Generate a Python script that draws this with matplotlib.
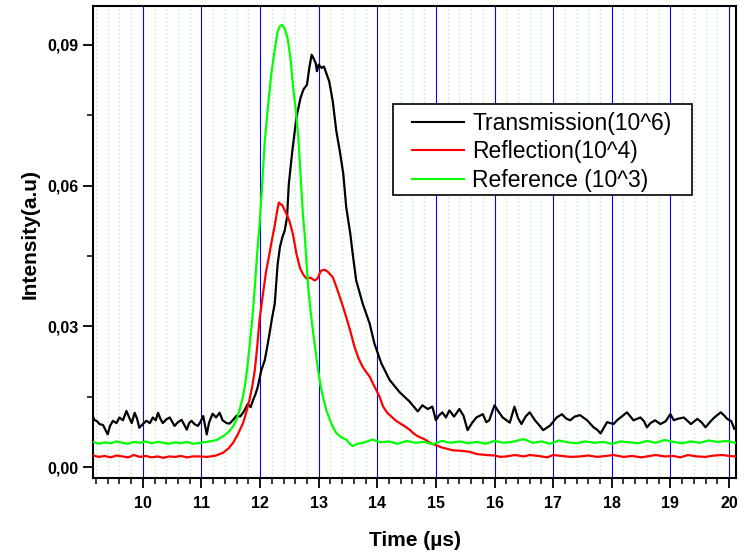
import matplotlib
matplotlib.use('Agg')
import matplotlib.pyplot as plt
from matplotlib.patches import Rectangle
from matplotlib.ticker import MultipleLocator, FuncFormatter

plt.rcParams['font.family'] = ['Liberation Sans', 'DejaVu Sans']

# Transmission (10^6), black
t_x = [9.15, 9.17, 9.22, 9.26, 9.32, 9.36, 9.40, 9.44, 9.49, 9.55, 9.60, 9.66, 9.72, 9.77,
       9.81, 9.86, 9.90, 9.94, 10.00, 10.06, 10.12, 10.17, 10.22, 10.26, 10.30, 10.34, 10.40,
       10.46, 10.50, 10.54, 10.60, 10.66, 10.70, 10.75, 10.79, 10.83, 10.88, 10.94, 10.98,
       11.03, 11.06, 11.09, 11.13, 11.19, 11.25, 11.31, 11.36, 11.43, 11.48, 11.54, 11.60,
       11.66, 11.72, 11.79, 11.84, 11.88, 11.92, 11.96, 12.02, 12.08, 12.12, 12.16, 12.20,
       12.25, 12.30, 12.34, 12.38, 12.42, 12.46, 12.49, 12.55, 12.62, 12.69, 12.74, 12.80,
       12.84, 12.88, 12.91, 12.95, 12.97, 13.00, 13.05, 13.09, 13.13, 13.18, 13.24, 13.30,
       13.36, 13.42, 13.47, 13.54, 13.58, 13.64, 13.75, 13.87, 13.95, 14.07, 14.21, 14.38,
       14.55, 14.69, 14.77, 14.86, 14.94, 15.00, 15.05, 15.11, 15.17, 15.23, 15.31, 15.40,
       15.47, 15.54, 15.62, 15.69, 15.80, 15.86, 15.91, 16.00, 16.07, 16.14, 16.26, 16.34,
       16.40, 16.46, 16.53, 16.60, 16.69, 16.76, 16.83, 16.95, 17.06, 17.15, 17.22, 17.29,
       17.37, 17.46, 17.58, 17.69, 17.75, 17.81, 17.92, 18.03, 18.09, 18.15, 18.26, 18.37,
       18.49, 18.55, 18.60, 18.66, 18.74, 18.83, 18.92, 19.00, 19.06, 19.12, 19.23, 19.35,
       19.46, 19.53, 19.60, 19.68, 19.75, 19.86, 19.92, 19.97, 20.04, 20.09]
t_y = [0.0108, 0.0101, 0.0098, 0.0092, 0.0090, 0.0080, 0.0070, 0.0088, 0.0099, 0.0094,
       0.0106, 0.0100, 0.0120, 0.0105, 0.0094, 0.0116, 0.0104, 0.0084, 0.0092, 0.0099,
       0.0094, 0.0106, 0.0100, 0.0116, 0.0103, 0.0094, 0.0102, 0.0106, 0.0097, 0.0088,
       0.0096, 0.0101, 0.0092, 0.0080, 0.0094, 0.0099, 0.0092, 0.0088, 0.0096, 0.0109,
       0.0090, 0.0070, 0.0095, 0.0114, 0.0106, 0.0116, 0.0100, 0.0094, 0.0093, 0.0101,
       0.0110, 0.0108, 0.0118, 0.0135, 0.0128, 0.0143, 0.0155, 0.0171, 0.0206, 0.0228,
       0.0255, 0.0284, 0.0315, 0.0348, 0.0433, 0.0470, 0.0490, 0.0504, 0.0532, 0.0603,
       0.0674, 0.0745, 0.0787, 0.0805, 0.0815, 0.0851, 0.0879, 0.0872, 0.0861, 0.0844,
       0.0858, 0.0851, 0.0854, 0.0840, 0.0822, 0.0780, 0.0717, 0.0674, 0.0625, 0.0554,
       0.0497, 0.0455, 0.0398, 0.0349, 0.0306, 0.0264, 0.0221, 0.0186, 0.0160, 0.0140,
       0.0119, 0.0132, 0.0124, 0.0129, 0.0100, 0.0110, 0.0117, 0.0106, 0.0121, 0.0108,
       0.0124, 0.0110, 0.0079, 0.0095, 0.0106, 0.0113, 0.0096, 0.0100, 0.0132, 0.0118,
       0.0106, 0.0095, 0.0129, 0.0105, 0.0092, 0.0108, 0.0117, 0.0100, 0.0090, 0.0079,
       0.0089, 0.0106, 0.0113, 0.0104, 0.0100, 0.0108, 0.0111, 0.0100, 0.0085, 0.0080,
       0.0072, 0.0096, 0.0092, 0.0100, 0.0106, 0.0117, 0.0100, 0.0106, 0.0098, 0.0085,
       0.0094, 0.0100, 0.0092, 0.0098, 0.0113, 0.0100, 0.0103, 0.0106, 0.0092, 0.0103,
       0.0096, 0.0085, 0.0097, 0.0106, 0.0117, 0.0110, 0.0103, 0.0098, 0.0082]

# Reflection (10^4), red
r_x = [9.15, 9.25, 9.35, 9.45, 9.55, 9.65, 9.75, 9.85, 9.95, 10.05, 10.15, 10.25, 10.35,
       10.45, 10.55, 10.65, 10.75, 10.85, 10.97, 11.10, 11.25, 11.37, 11.46, 11.54, 11.62,
       11.71, 11.76, 11.82, 11.87, 11.91, 11.95, 11.99, 12.05, 12.10, 12.16, 12.20, 12.25,
       12.29, 12.32, 12.38, 12.45, 12.50, 12.56, 12.62, 12.68, 12.73, 12.79, 12.86, 12.93,
       12.98, 13.04, 13.10, 13.16, 13.24, 13.30, 13.36, 13.42, 13.47, 13.54, 13.61, 13.68,
       13.75, 13.81, 13.87, 13.92, 13.98, 14.04, 14.10, 14.17, 14.24, 14.31, 14.38, 14.46,
       14.55, 14.62, 14.69, 14.80, 14.90, 15.00, 15.10, 15.20, 15.29, 15.43, 15.57, 15.70,
       15.86, 16.00, 16.10, 16.20, 16.35, 16.50, 16.60, 16.75, 16.90, 17.00, 17.15, 17.30,
       17.46, 17.60, 17.75, 17.90, 18.03, 18.20, 18.35, 18.50, 18.60, 18.75, 18.90, 19.05,
       19.17, 19.30, 19.45, 19.60, 19.75, 19.90, 20.00, 20.11]
r_y = [0.0025, 0.0022, 0.0024, 0.0021, 0.0025, 0.0023, 0.0021, 0.0026, 0.0022, 0.0024,
       0.0021, 0.0023, 0.0020, 0.0023, 0.0022, 0.0024, 0.0021, 0.0023, 0.0023, 0.0022,
       0.0025, 0.0031, 0.0040, 0.0052, 0.0070, 0.0094, 0.0115, 0.0144, 0.0175, 0.0207,
       0.0255, 0.0313, 0.0370, 0.0415, 0.0455, 0.0483, 0.0515, 0.0545, 0.0564, 0.0558,
       0.0540, 0.0525, 0.0497, 0.0455, 0.0425, 0.0412, 0.0402, 0.0404, 0.0398, 0.0402,
       0.0419, 0.0421, 0.0416, 0.0405, 0.0385, 0.0363, 0.0340, 0.0320, 0.0290, 0.0257,
       0.0232, 0.0214, 0.0203, 0.0193, 0.0180, 0.0165, 0.0150, 0.0129, 0.0116, 0.0108,
       0.0100, 0.0094, 0.0088, 0.0080, 0.0072, 0.0066, 0.0060, 0.0052, 0.0047, 0.0042,
       0.0039, 0.0036, 0.0035, 0.0033, 0.0028, 0.0026, 0.0025, 0.0022, 0.0023, 0.0026,
       0.0023, 0.0026, 0.0024, 0.0021, 0.0026, 0.0024, 0.0022, 0.0023, 0.0025, 0.0022,
       0.0024, 0.0026, 0.0022, 0.0024, 0.0021, 0.0023, 0.0026, 0.0023, 0.0024, 0.0021,
       0.0026, 0.0023, 0.0022, 0.0025, 0.0026, 0.0024, 0.0023]

# Reference (10^3), green
g_x = [9.15, 9.25, 9.35, 9.45, 9.55, 9.65, 9.75, 9.85, 9.95, 10.05, 10.15, 10.25, 10.35,
       10.45, 10.55, 10.65, 10.75, 10.85, 10.97, 11.14, 11.26, 11.37, 11.46, 11.54, 11.60,
       11.65, 11.70, 11.74, 11.78, 11.82, 11.87, 11.91, 11.95, 11.99, 12.04, 12.08, 12.14,
       12.19, 12.25, 12.30, 12.34, 12.37, 12.42, 12.47, 12.52, 12.56, 12.61, 12.65, 12.70,
       12.73, 12.76, 12.82, 12.86, 12.90, 12.95, 12.99, 13.03, 13.07, 13.13, 13.19, 13.25,
       13.30, 13.38, 13.47, 13.53, 13.58, 13.66, 13.75, 13.83, 13.92, 14.05, 14.19, 14.35,
       14.50, 14.65, 14.80, 14.95, 15.10, 15.25, 15.40, 15.55, 15.70, 15.85, 16.00, 16.15,
       16.30, 16.50, 16.65, 16.80, 16.95, 17.10, 17.25, 17.40, 17.55, 17.70, 17.85, 18.00,
       18.15, 18.30, 18.45, 18.60, 18.75, 18.90, 19.05, 19.20, 19.35, 19.50, 19.65, 19.80,
       19.95, 20.11]
g_y = [0.0054, 0.0050, 0.0053, 0.0051, 0.0055, 0.0052, 0.0050, 0.0054, 0.0052, 0.0055,
       0.0051, 0.0054, 0.0052, 0.0050, 0.0053, 0.0051, 0.0054, 0.0050, 0.0052, 0.0055,
       0.0058, 0.0066, 0.0075, 0.0087, 0.0102, 0.0122, 0.0146, 0.0172, 0.0210, 0.0257,
       0.0320, 0.0384, 0.0455, 0.0515, 0.0610, 0.0695, 0.0775, 0.0837, 0.0890, 0.0929,
       0.0940, 0.0943, 0.0935, 0.0914, 0.0870, 0.0815, 0.0760, 0.0709, 0.0603, 0.0540,
       0.0497, 0.0384, 0.0335, 0.0292, 0.0245, 0.0207, 0.0175, 0.0151, 0.0122, 0.0101,
       0.0084, 0.0073, 0.0064, 0.0059, 0.0050, 0.0045, 0.0050, 0.0052, 0.0055, 0.0059,
       0.0053, 0.0055, 0.0050, 0.0056, 0.0052, 0.0054, 0.0049, 0.0056, 0.0052, 0.0055,
       0.0051, 0.0054, 0.0050, 0.0056, 0.0052, 0.0054, 0.0060, 0.0052, 0.0055, 0.0050,
       0.0057, 0.0053, 0.0051, 0.0055, 0.0052, 0.0054, 0.0050, 0.0055, 0.0053, 0.0051,
       0.0056, 0.0052, 0.0058, 0.0054, 0.0051, 0.0055, 0.0052, 0.0057, 0.0054, 0.0056,
       0.0052]

labels = ['Transmission(10^6)', 'Reflection(10^4)', 'Reference (10^3)']

fig = plt.figure(figsize=(7.46, 5.53), dpi=100)
ax = fig.add_axes([0.1247, 0.1356, 0.8619, 0.8536])

# grid: blue at whole us, light green dotted at 0.2 us
for v in range(10, 21):
    ax.axvline(v, color='#0000ff', lw=0.8, zorder=1)
for k in range(46, 101):
    if k % 5 != 0:
        ax.axvline(k * 0.2, color='#a6f0a6', lw=0.9, ls=(0, (1, 2.2)), zorder=1)

ax.plot(t_x, t_y, color='black', lw=1.6, label=labels[0], zorder=3)
ax.plot(r_x, r_y, color='#ff0000', lw=1.6, label=labels[1], zorder=3)
ax.plot(g_x, g_y, color='#00ff00', lw=1.6, label=labels[2], zorder=3)

ax.set_xlim(9.15, 20.12)
ax.set_ylim(-0.0023, 0.0983)
ax.xaxis.set_major_locator(MultipleLocator(1))
ax.xaxis.set_minor_locator(MultipleLocator(0.2))
ax.yaxis.set_major_locator(MultipleLocator(0.03))
ax.yaxis.set_minor_locator(MultipleLocator(0.015))
ax.yaxis.set_major_formatter(FuncFormatter(lambda v, p: ('%.2f' % v).replace('.', ',')))
ax.tick_params(which='major', direction='out', length=7, width=1.3, labelsize=11.5)
ax.tick_params(axis='x', which='major', pad=6)
ax.tick_params(which='minor', direction='out', length=4, width=1.1)
for lab in ax.get_xticklabels() + ax.get_yticklabels():
    lab.set_fontweight('bold')
for s in ax.spines.values():
    s.set_linewidth(1.5)

ax.set_xlabel(u'Time (\u00b5s)', fontsize=15, fontweight='bold', labelpad=14)
ax.set_ylabel('Intensity(a.u)', fontsize=15, fontweight='bold')
ax.yaxis.set_label_coords(-0.083, 0.517)

# legend without frame, box drawn separately behind it
box = Rectangle((393 / 746, 1 - 195 / 553), 299 / 746, 91 / 553,
                transform=fig.transFigure, facecolor='white', edgecolor='black',
                lw=1.2, zorder=4, clip_on=False)
ax.add_patch(box)
leg = ax.legend(loc='upper left', bbox_to_anchor=(0.4961, 0.776), borderaxespad=0,
                borderpad=0, fontsize=16.5, handlelength=2.25, handletextpad=0.38,
                labelspacing=0.24, frameon=False)
leg.set_zorder(6)
for l in leg.get_lines():
    l.set_linewidth(1.5)

fig.savefig('out.png', dpi=100)
